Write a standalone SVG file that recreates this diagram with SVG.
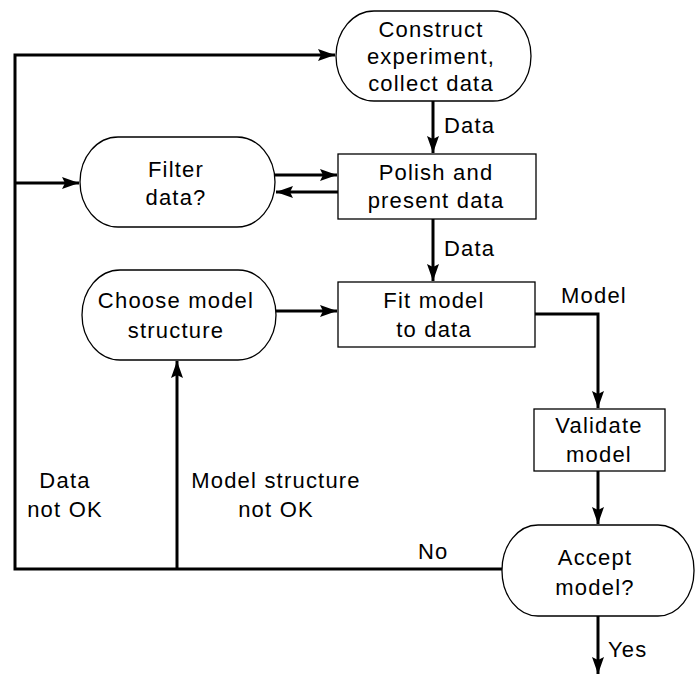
<svg xmlns="http://www.w3.org/2000/svg" width="695" height="675" viewBox="0 0 695 675">
<defs>
<style>
.node{fill:#fff;stroke:#000;stroke-width:1.3}
.t{font-family:"Liberation Sans",Arial,sans-serif;font-size:22px;letter-spacing:1.2px;fill:#000;text-anchor:middle}
.c{fill:none;stroke:#000;stroke-width:3}
.lbl{font-family:"Liberation Sans",Arial,sans-serif;font-size:22px;letter-spacing:1.2px;fill:#000}
</style>
<marker id="ah" markerUnits="userSpaceOnUse" markerWidth="18" markerHeight="12" viewBox="0 0 18 12" refX="17" refY="6" orient="auto">
<path d="M0,0 L17,6 L0,12 L3,6 Z" fill="#000"/>
</marker>
</defs>
<rect width="695" height="675" fill="#fff"/>
<g id="connectors">
<path class="c" d="M502,569 H15 V55 H335" marker-end="url(#ah)"/>
<path class="c" d="M15,183 H79" marker-end="url(#ah)"/>
<path class="c" d="M433,101 V153" marker-end="url(#ah)"/>
<path class="c" d="M275,175 H337" marker-end="url(#ah)"/>
<path class="c" d="M338,192 H276" marker-end="url(#ah)"/>
<path class="c" d="M433,219 V281" marker-end="url(#ah)"/>
<path class="c" d="M276,311 H337" marker-end="url(#ah)"/>
<path class="c" d="M177,569 V361" marker-end="url(#ah)"/>
<path class="c" d="M535,314 H598 V408" marker-end="url(#ah)"/>
<path class="c" d="M598,471 V524" marker-end="url(#ah)"/>
<path class="c" d="M598,616 V674" marker-end="url(#ah)"/>
<text class="lbl" x="444" y="133">Data</text>
<text class="lbl" x="444" y="256">Data</text>
<text class="lbl" x="561" y="303">Model</text>
<text class="lbl" x="418" y="559">No</text>
<text class="lbl" x="608" y="657">Yes</text>
<text class="t" x="65" y="488">Data</text>
<text class="t" x="65" y="517">not OK</text>
<text class="t" x="276" y="488">Model structure</text>
<text class="t" x="276" y="517">not OK</text>
</g>
<g id="construct">
<rect class="node" x="336" y="11" width="195" height="90" rx="38" ry="45"/>
<text class="t" x="431" y="37">Construct</text>
<text class="t" x="431" y="64">experiment,</text>
<text class="t" x="431" y="91">collect data</text>
</g>
<g id="filter">
<rect class="node" x="80" y="137" width="195" height="90" rx="38" ry="45"/>
<text class="t" x="176" y="177">Filter</text>
<text class="t" x="176" y="205">data?</text>
</g>
<g id="polish">
<rect class="node" x="338" y="154" width="198" height="65"/>
<text class="t" x="436" y="180">Polish and</text>
<text class="t" x="436" y="208">present data</text>
</g>
<g id="choose">
<rect class="node" x="82" y="270" width="194" height="90" rx="38" ry="45"/>
<text class="t" x="176" y="308">Choose model</text>
<text class="t" x="176" y="338">structure</text>
</g>
<g id="fit">
<rect class="node" x="338" y="282" width="197" height="65"/>
<text class="t" x="434" y="308">Fit model</text>
<text class="t" x="434" y="337">to data</text>
</g>
<g id="validate">
<rect class="node" x="534" y="409" width="131" height="62"/>
<text class="t" x="599" y="433">Validate</text>
<text class="t" x="599" y="462">model</text>
</g>
<g id="accept">
<rect class="node" x="502" y="525" width="192" height="91" rx="36" ry="45"/>
<text class="t" x="595" y="565">Accept</text>
<text class="t" x="595" y="595">model?</text>
</g>
</svg>
